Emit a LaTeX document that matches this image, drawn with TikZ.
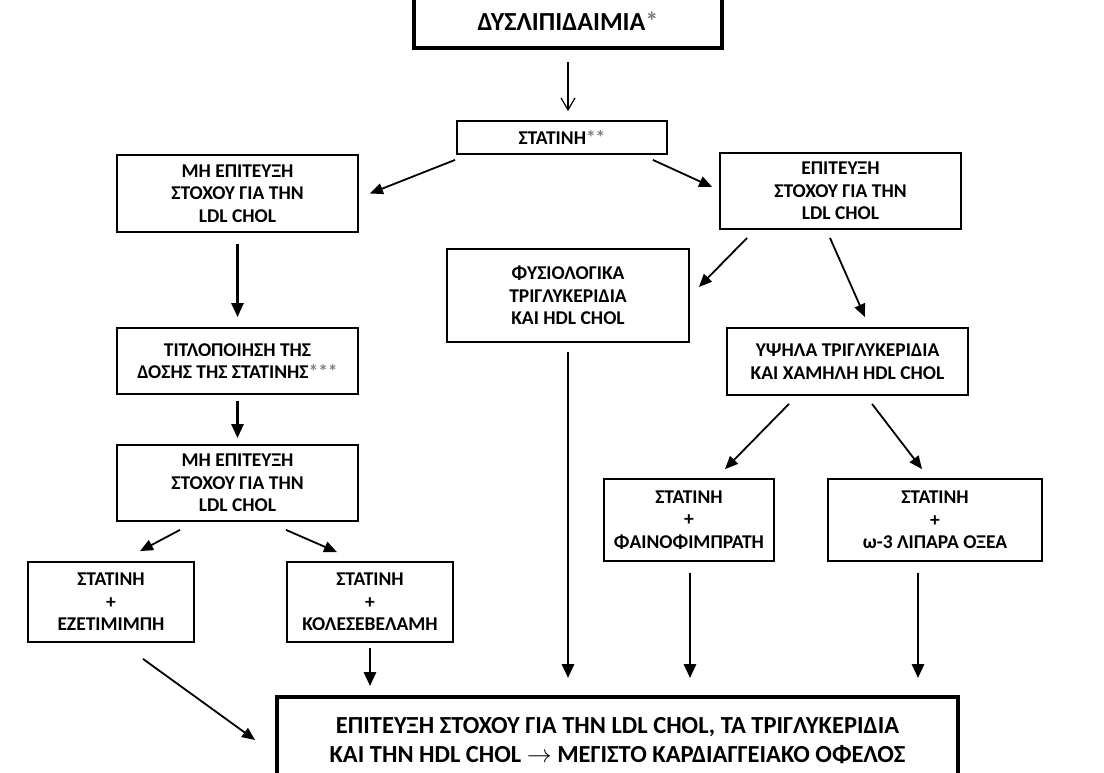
\documentclass[tikz,border=0pt]{standalone}
\usepackage{fontspec}
\setmainfont{Carlito}
\usepackage{xcolor}
\usepackage{tikz}
\usetikzlibrary{arrows.meta, calc}
\newcommand{\grast}[1]{\textcolor{black!50}{#1}}

\begin{document}
\begin{tikzpicture}[x=1pt, y=-1pt,
    box/.style = {draw, line width=1.8pt, align=center, inner sep=0pt, font=\bfseries\fontsize{19.5}{22.5}\selectfont},
    bigbox/.style = {box, line width=3.8pt, font=\bfseries\fontsize{24.5}{29}\selectfont},
    arr/.style = {-{Triangle[length=13pt,width=11pt]}, line width=1.8pt},
    varr/.style = {-{Triangle[length=14pt,width=12pt]}, line width=2.8pt},
    barb/.style = {-{Straight Barb[length=12pt,width=14pt]}, line width=1.2pt}]
        \useasboundingbox (0,0) rectangle (1104,773);
        \clip (0,0) rectangle (1104,773);
        \node[bigbox, minimum width=308, minimum height=53, font=\bfseries\fontsize{26}{28}\selectfont] at (568, 21.5) (dys) {ΔΥΣΛΙΠΙΔΑΙΜΙΑ\grast{*}};
        \node[box, minimum width=210, minimum height=33] at (562, 137.5) (stat) {ΣΤΑΤΙΝΗ\grast{**}};
        \node[box, minimum width=241, minimum height=77] at (237.5, 193.5) (mh1) {ΜΗ ΕΠΙΤΕΥΞΗ\\ΣΤΟΧΟΥ ΓΙΑ ΤΗΝ\\LDL CHOL};
        \node[box, minimum width=241, minimum height=76] at (840.5, 191) (epit) {ΕΠΙΤΕΥΞΗ\\ΣΤΟΧΟΥ ΓΙΑ ΤΗΝ\\LDL CHOL};
        \node[box, minimum width=242, minimum height=93] at (568, 295.5) (fys) {ΦΥΣΙΟΛΟΓΙΚΑ\\ΤΡΙΓΛΥΚΕΡΙΔΙΑ\\ΚΑΙ HDL CHOL};
        \node[box, minimum width=241, minimum height=66] at (237.5, 361) (titl) {ΤΙΤΛΟΠΟΙΗΣΗ ΤΗΣ\\ΔΟΣΗΣ ΤΗΣ ΣΤΑΤΙΝΗΣ\grast{***}};
        \node[box, minimum width=241, minimum height=67] at (847.5, 361.5) (yps) {ΥΨΗΛΑ ΤΡΙΓΛΥΚΕΡΙΔΙΑ\\ΚΑΙ ΧΑΜΗΛΗ HDL CHOL};
        \node[box, minimum width=241, minimum height=76] at (237.5, 483) (mh2) {ΜΗ ΕΠΙΤΕΥΞΗ\\ΣΤΟΧΟΥ ΓΙΑ ΤΗΝ\\LDL CHOL};
        \node[box, minimum width=170, minimum height=82] at (689, 520) (fain) {ΣΤΑΤΙΝΗ\\+\\ΦΑΙΝΟΦΙΜΠΡΑΤΗ};
        \node[box, minimum width=214, minimum height=82] at (935, 520) (om) {ΣΤΑΤΙΝΗ\\+\\ω-3 ΛΙΠΑΡΑ ΟΞΕΑ};
        \node[box, minimum width=166, minimum height=80] at (111, 602) (ezet) {ΣΤΑΤΙΝΗ\\+\\ΕΖΕΤΙΜΙΜΠΗ};
        \node[box, minimum width=166, minimum height=80] at (370, 602) (koles) {ΣΤΑΤΙΝΗ\\+\\ΚΟΛΕΣΕΒΕΛΑΜΗ};
        \node[bigbox, minimum width=681, minimum height=88] at (617.5, 741) (bot) {ΕΠΙΤΕΥΞΗ ΣΤΟΧΟΥ ΓΙΑ ΤΗΝ LDL CHOL, ΤΑ ΤΡΙΓΛΥΚΕΡΙΔΙΑ\\ΚΑΙ ΤΗΝ HDL CHOL $\rightarrow$ ΜΕΓΙΣΤΟ ΚΑΡΔΙΑΓΓΕΙΑΚΟ ΟΦΕΛΟΣ};
        \draw[barb, shorten <=12pt, shorten >=9pt] (dys.south) -- (dys.south |- stat.north);
        \draw[arr] ($(stat.south west)+(-1,5)$) -- ($(mh1.east)+(11,0)$);
        \draw[arr] ($(stat.south east)+(-15,5)$) -- ($(epit.west)+(-7,-4)$);
        \draw[varr, shorten <=11pt, shorten >=10pt] (mh1) -- (titl);
        \draw[varr, shorten <=6pt, shorten >=6pt] (titl) -- (mh2);
        \draw[arr] ($(mh2.south)+(-57.5,8)$) -- ($(ezet.north)+(29,-10)$);
        \draw[arr] ($(mh2.south)+(48.5,8)$) -- ($(koles.north)+(-33,-9)$);
        \draw[arr] ($(ezet.south)+(32,16)$) -- ($(bot.west)+(-20,-1)$);
        \draw[varr, shorten <=5pt, shorten >=9pt] (koles.south) -- (koles.south |- bot.north);
        \draw[varr, shorten <=9pt, shorten >=17pt] (fys.south) -- (fys.south |- bot.north);
        \draw[varr, shorten <=11pt, shorten >=17pt] ($(fain.south)+(1,0)$) -- ($(fain.south |- bot.north)+(1,0)$);
        \draw[varr, shorten <=11pt, shorten >=17pt] ($(om.south)+(-17,0)$) -- ($(om.south |- bot.north)+(-17,0)$);
        \draw[arr] ($(epit.south west)+(28,8)$) -- ($(fys.east)+(9,-8.5)$);
        \draw[arr] ($(epit.south)+(-10.5,8)$) -- ($(yps.north)+(17.5,-10)$);
        \draw[arr] ($(yps.south)+(-58.5,8)$) -- ($(fain.north)+(36,-9)$);
        \draw[arr] ($(yps.south)+(24.5,8)$) -- ($(om.north)+(-13,-9)$);
\end{tikzpicture}
\end{document}
